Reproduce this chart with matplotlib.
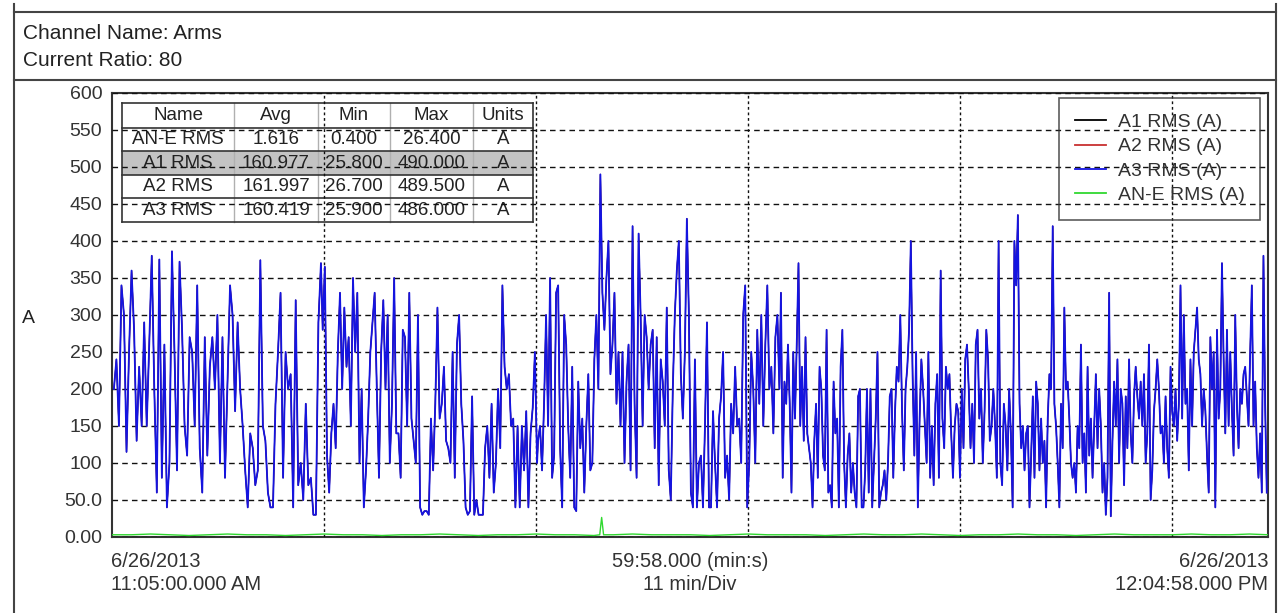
import numpy as np
import matplotlib.pyplot as plt
from matplotlib.lines import Line2D
from matplotlib.patches import Rectangle

plt.rcParams['font.family'] = ['Liberation Sans', 'DejaVu Sans']

# A3 RMS readings (A), one list per grid division block
seg1 = [200, 240, 150, 340, 300, 115, 250, 360, 280, 130, 230, 150, 290, 150, 260, 380, 200, 60,
        375, 80, 260, 40, 100, 386, 250, 90, 372, 280, 150, 110, 270, 250, 150, 340, 120, 60, 270,
        110, 230, 270, 200, 300, 100, 270, 80, 210, 340, 300, 170, 290, 200, 150, 90, 40, 140, 120,
        70, 90, 374, 150, 130, 60, 40, 40, 180, 250, 330, 80, 250, 200, 220, 40, 320, 70, 100, 50,
        180, 70, 80, 30, 30, 290, 370]
seg2 = [280, 365, 110, 60, 140, 180, 120, 250, 330, 200, 310, 230, 270, 150, 350, 250, 330, 100,
        200, 40, 90, 160, 250, 290, 330, 200, 80, 250, 320, 200, 300, 100, 180, 350, 140, 140, 80,
        280, 270, 150, 330, 160, 130, 100, 300, 40, 30, 35, 35, 30, 160, 90, 180, 310, 160, 180,
        230, 130, 120, 100, 250, 80, 260, 300, 180, 130, 40, 30, 35, 190, 30, 50, 30, 30, 30, 120,
        150, 80, 180, 60, 100, 200, 120, 340, 230, 200, 220, 150, 160, 40, 150, 40, 150, 90, 170,
        40, 140, 175, 250, 100]
seg3 = [130, 150, 90, 180, 300, 150, 350, 80, 110, 330, 340, 120, 40, 300, 260, 150, 80, 230, 40,
        35, 210, 120, 160, 60, 150, 220, 90, 100, 240, 300, 200, 490, 330, 280, 350, 400, 220, 260,
        330, 180, 250, 150, 250, 100, 210, 260, 90, 420, 180, 80, 410, 300, 150, 300, 270, 200, 260,
        280, 120, 270, 70, 240, 210, 150, 310, 90, 50, 200, 300, 360, 400, 220, 160, 250, 430, 300,
        60, 40, 240, 40, 100, 110, 40, 150, 290, 40, 40, 170, 100, 40, 160, 190, 250, 80, 110, 50,
        180, 140, 230, 150, 160, 100, 300, 340, 40, 100, 250, 200, 100, 280, 180, 300, 150, 260,
        340, 200, 230, 140, 270, 300, 200]
seg4 = [330, 80, 210, 180, 260, 180, 60, 250, 160, 260, 370, 150, 230, 130, 270, 140, 120, 100, 40,
        130, 180, 80, 230, 200, 110, 90, 280, 60, 70, 40, 210, 140, 160, 40, 230, 280, 100, 40, 110,
        140, 60, 100, 60, 40, 190, 200, 40, 40, 90, 200, 60, 200, 40, 100, 160, 250, 40, 60, 70, 90,
        50, 100, 190, 200, 80, 170, 230, 210, 300, 170, 90, 200, 230, 280, 400, 220, 110, 250, 40,
        160, 240, 200, 150, 100, 250, 80, 150, 70, 180, 220, 80, 360, 160, 120, 230, 200, 220, 140,
        80, 150, 180, 170, 80, 200, 120, 240, 260, 200, 120, 180, 100, 260, 280, 160, 200, 100, 170,
        280, 240, 130, 150, 200, 150, 80, 400, 100, 70, 180, 150, 90, 200, 140, 40, 400, 340]
seg5 = [435, 180, 120, 150, 90, 140, 150, 40, 110, 190, 80, 210, 180, 90, 160, 100, 130, 40, 160,
        220, 200, 420, 180, 150, 100, 40, 180, 120, 310, 200, 210, 160, 100, 80, 100, 60, 150, 120,
        260, 100, 140, 60, 230, 110, 160, 80, 150, 220, 120, 200, 150, 60, 100, 30, 80, 330, 28, 130,
        210, 150, 240, 100, 200, 180, 70, 190, 120, 240, 140, 100, 190, 230, 190, 160, 210, 150, 220,
        100, 140, 260, 50, 90, 170, 200, 240, 200, 140, 150, 100, 190, 120, 80, 230, 170, 150, 200,
        130, 180, 340, 160, 300, 180, 200, 90, 240, 150, 250, 280, 310, 240, 220, 150, 200, 170, 110,
        60, 270, 200, 250, 40, 280, 160, 200, 370, 240, 140, 280, 150, 250, 170, 110, 300, 180, 120,
        200, 180, 220, 230, 190, 150, 250, 340, 150, 210, 120, 80, 140, 60, 380, 180, 60]
# time span (minutes from 11:05:00) covered by each block
seg_spans = [(0.1, 10.84), (10.93, 22.05), (22.1, 34.62), (34.7, 46.9), (46.99, 59.9)]

# AN-E RMS (A), one reading per minute, plus the short spike
an_vals = [3, 3, 4, 3, 2, 3, 4, 3, 3, 2, 3, 4, 3, 3, 2, 3, 3, 4, 3, 2, 3, 3, 4, 3, 3, 2, 3, 4, 3,
           3, 3, 2, 3, 4, 3, 3, 3, 2, 3, 4, 3, 3, 4, 3, 2, 3, 3, 4, 3, 3, 2, 3, 4, 3, 3, 3, 4, 3, 3,
           4, 3]
an_spike_t = [25.3, 25.4, 25.5]
an_spike_v = [3, 26.4, 3]

total_min = 59 + 58 / 60.0
yticks = list(range(0, 601, 50))
ytick_labels = ['0.00', '50.0'] + [str(v) for v in yticks[2:]]

table_cols = ['Name', 'Avg', 'Min', 'Max', 'Units']
table_rows = [['AN-E RMS', '1.616', '0.400', '26.400', 'A'],
              ['A1 RMS', '160.977', '25.800', '490.000', 'A'],
              ['A2 RMS', '161.997', '26.700', '489.500', 'A'],
              ['A3 RMS', '160.419', '25.900', '486.000', 'A']]

# build series
t_parts, v_parts = [], []
for (a, b), vals in zip(seg_spans, [seg1, seg2, seg3, seg4, seg5]):
    t_parts.append(np.linspace(a, b, len(vals)))
    v_parts.append(np.array(vals, dtype=float))
t = np.concatenate(t_parts)
a3 = np.concatenate(v_parts)

an_t = np.arange(len(an_vals)) * 1.0
an_v = np.array(an_vals, dtype=float)
idx = np.searchsorted(an_t, an_spike_t[0])
an_t = np.insert(an_t, idx, an_spike_t)
an_v = np.insert(an_v, idx, an_spike_v)
an_t = np.clip(an_t, 0, total_min)

fig = plt.figure(figsize=(12.81, 6.13), dpi=100)
ax = fig.add_axes([0.0874, 0.124, 0.9025, 0.7243])

ax.plot(t, a3, color='black', lw=0.8, zorder=3, label='A1 RMS (A)')
ax.plot(t, a3, color='#c83030', lw=0.8, zorder=3.1, label='A2 RMS (A)')
ax.plot(t, a3, color='#1414e0', lw=1.3, zorder=3.2, label='A3 RMS (A)')
ax.plot(an_t, an_v, color='#30d830', lw=1.0, zorder=3.3, label='AN-E RMS (A)')

ax.set_xlim(0, total_min)
ax.set_ylim(0, 600)
ax.set_yticks(yticks)
ax.set_yticklabels(ytick_labels)
ax.set_xticks([11, 22, 33, 44, 55])
ax.set_xticklabels([])
ax.tick_params(axis='both', length=0, pad=7, labelsize=14, labelcolor='#333333')
ax.grid(True, axis='y', color='#111111', linestyle=(0, (4, 3)), linewidth=1.0)
ax.grid(True, axis='x', color='#111111', linestyle=(0, (2, 2)), linewidth=1.0)
ax.set_axisbelow(False)
for sp in ax.spines.values():
    sp.set_color('#333333')
    sp.set_linewidth(1.5)

# summary table (drawn under the grid, like the original)
col_edges = [0.0087, 0.1056, 0.1782, 0.2405, 0.3123, 0.3642]
row_edges = [0.9775, 0.9215, 0.8690, 0.8150, 0.7630, 0.7095]
ax.add_patch(Rectangle((col_edges[0], row_edges[3]), col_edges[-1] - col_edges[0],
                       row_edges[2] - row_edges[3], transform=ax.transAxes,
                       facecolor='#c3c3c3', edgecolor='none', zorder=1))
for x in col_edges[1:-1]:
    ax.plot([x, x], [row_edges[-1], row_edges[0]], transform=ax.transAxes,
            color='#b0b0b0', lw=1.0, zorder=1.2)
for y in row_edges:
    ax.plot([col_edges[0], col_edges[-1]], [y, y], transform=ax.transAxes,
            color='#333333', lw=1.2, zorder=1.3)
for x in (col_edges[0], col_edges[-1]):
    ax.plot([x, x], [row_edges[-1], row_edges[0]], transform=ax.transAxes,
            color='#333333', lw=1.2, zorder=1.3)
for r, row in enumerate([table_cols] + table_rows):
    yc = (row_edges[r] + row_edges[r + 1]) / 2
    for c, txt in enumerate(row):
        xc = (col_edges[c] + col_edges[c + 1]) / 2
        ax.text(xc, yc, txt, transform=ax.transAxes, ha='center', va='center',
                fontsize=13.5, color='#222222', zorder=1.4)

leg = ax.legend(loc='upper right', bbox_to_anchor=(0.993, 0.989), borderaxespad=0,
                fontsize=14, frameon=True, fancybox=False, handlelength=1.6,
                handletextpad=0.6, labelspacing=0.35, borderpad=0.8)
leg.get_frame().set_facecolor('none')
leg.get_frame().set_edgecolor('#333333')
leg.get_frame().set_linewidth(1.2)
for txt in leg.get_texts():
    txt.set_color('#333333')
for ln in leg.get_lines():
    ln.set_linewidth(1.3)

# outer frame and header
for x in (0.0109, 0.9961):
    fig.add_artist(Line2D([x, x], [0, 0.994], color='#444444', lw=1.5))
for y in (0.9804, 0.8695):
    fig.add_artist(Line2D([0.0109, 0.9961], [y, y], color='#444444', lw=1.5))
fig.text(0.018, 0.946, 'Channel Name: Arms', fontsize=15, color='#222222', va='center')
fig.text(0.018, 0.902, 'Current Ratio: 80', fontsize=15, color='#222222', va='center')
fig.text(0.0219, 0.481, 'A', fontsize=14, color='#222222', va='center', ha='center')

fig.text(0.0867, 0.0832, '6/26/2013', fontsize=14.5, color='#333333', va='center', ha='left')
fig.text(0.0867, 0.0457, '11:05:00.000 AM', fontsize=14.5, color='#333333', va='center', ha='left')
fig.text(0.5386, 0.0832, '59:58.000 (min:s)', fontsize=14.5, color='#333333', va='center', ha='center')
fig.text(0.5386, 0.0457, '11 min/Div', fontsize=14.5, color='#333333', va='center', ha='center')
fig.text(0.9899, 0.0832, '6/26/2013', fontsize=14.5, color='#333333', va='center', ha='right')
fig.text(0.9899, 0.0457, '12:04:58.000 PM', fontsize=14.5, color='#333333', va='center', ha='right')

fig.savefig('out.png', dpi=100)
